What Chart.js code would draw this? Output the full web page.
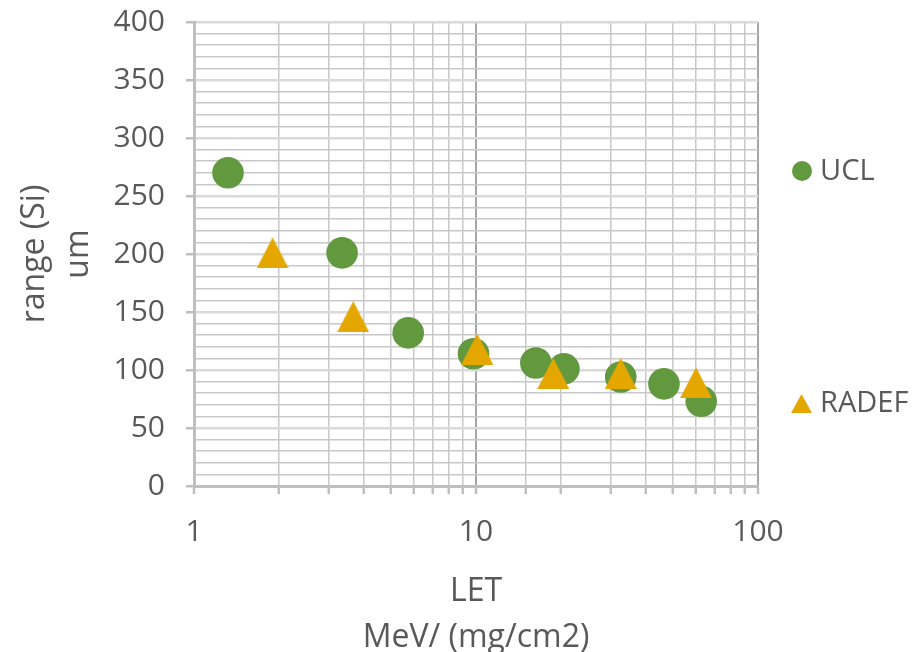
<!DOCTYPE html>
<html><head><meta charset="utf-8">
<script src="https://cdn.jsdelivr.net/npm/chart.js@4/dist/chart.umd.min.js"></script>
<style>html,body{margin:0;padding:0;background:#fff;} canvas{display:block}</style>
</head><body>
<canvas id="c" width="917" height="652"></canvas>
<script>
const seriesNames = ['UCL', 'RADEF'];
const uclLET = [1.32, 3.35, 5.75, 9.8, 16.3, 20.5, 32.6, 46.4, 62.9];
const uclRange = [270, 201, 132, 114, 106, 101, 94, 88, 73];
const radefLET = [1.9, 3.67, 10.1, 18.8, 32.6, 60.3];
const radefRange = [201, 146, 118, 97, 97, 89];
const xTickLabels = ['1', '10', '100'];
const yTickLabels = ['0', '50', '100', '150', '200', '250', '300', '350', '400'];
const xTitle = ['LET', 'MeV/ (mg/cm2)'];
const yTitle = ['range (Si)', 'um'];

const GREEN = '#62993E';
const GOLD = '#E4A700';
const TEXT = '#595959';
const FONT = "'Open Sans', sans-serif";

function triCanvas(w, h, color) {
  const c = document.createElement('canvas');
  c.width = w; c.height = h;
  const g = c.getContext('2d');
  g.fillStyle = color;
  g.beginPath();
  g.moveTo(w / 2, 0); g.lineTo(w, h); g.lineTo(0, h); g.closePath();
  g.fill();
  return c;
}
const triImg = triCanvas(32, 31, GOLD);

const toPts = (xs, ys) => xs.map((x, i) => ({x: x, y: ys[i]}));

const sideLegend = {
  id: 'sideLegend',
  afterDraw(chart) {
    const ctx = chart.ctx;
    const ys = [171, 403];
    ctx.save();
    ctx.font = '29px ' + FONT;
    ctx.fillStyle = TEXT;
    ctx.textBaseline = 'middle';
    ctx.textAlign = 'left';
    chart.data.datasets.forEach((ds, i) => {
      const y = ys[i];
      if (ds.pointStyle === 'circle') {
        ctx.fillStyle = ds.backgroundColor;
        ctx.beginPath(); ctx.arc(802, y, 10, 0, Math.PI * 2); ctx.fill();
      } else {
        ctx.drawImage(ds.pointStyle, 791, y - 9, 21, 19);
      }
      ctx.fillStyle = TEXT;
      ctx.fillText(ds.label, 820, y + 1);
    });
    ctx.restore();
  }
};

const isDecade = v => Math.abs(Math.log10(v) - Math.round(Math.log10(v))) < 1e-9;

new Chart(document.getElementById('c'), {
  type: 'scatter',
  data: {
    datasets: [
      {label: seriesNames[0], data: toPts(uclLET, uclRange), pointStyle: 'circle',
       backgroundColor: GREEN, borderColor: GREEN, borderWidth: 0, pointRadius: 15.8, order: 2},
      {label: seriesNames[1], data: toPts(radefLET, radefRange), pointStyle: triImg,
       backgroundColor: GOLD, borderColor: GOLD, borderWidth: 0, pointRadius: 16, order: 1}
    ]
  },
  plugins: [sideLegend],
  options: {
    responsive: false,
    animation: false,
    devicePixelRatio: 1,
    events: [],
    layout: {padding: {left: 0, right: 159, top: 22, bottom: 0}},
    plugins: {legend: {display: false}, tooltip: {enabled: false}},
    scales: {
      x: {
        type: 'logarithmic', position: 'bottom', min: 1, max: 100,
        afterFit: s => { s.height = 166; s.paddingLeft = 10; s.paddingRight = 10; },
        border: {color: '#bfbfbf', width: 3},
        grid: {
          color: c => (c.tick && isDecade(c.tick.value)) ? '#a6a6a6' : '#c8c8c8',
          lineWidth: c => (c.tick && isDecade(c.tick.value)) ? 2 : 1.5,
          tickColor: '#bfbfbf', tickWidth: 2.5, tickLength: 8
        },
        ticks: {
          autoSkip: false, maxRotation: 0, padding: 20, color: TEXT,
          font: {family: FONT, size: 30},
          callback: v => (isDecade(v) && xTickLabels.includes(String(Math.round(v)))) ? String(Math.round(v)) : ''
        },
        title: {display: true, text: xTitle, color: TEXT, font: {family: FONT, size: 32, lineHeight: 1.45},
                padding: {top: 0, bottom: -9}}
      },
      y: {
        type: 'linear', min: 0, max: 400,
        afterFit: s => { s.width = 194; s.paddingTop = 10; s.paddingBottom = 10; },
        border: {color: '#bfbfbf', width: 3},
        grid: {
          color: c => (c.tick && c.tick.value % 50 === 0) ? '#dadada' : '#c8c8c8',
          lineWidth: c => (c.tick && c.tick.value % 50 === 0) ? 2.5 : 1.5,
          tickColor: c => (c.tick && c.tick.value % 50 === 0) ? '#bfbfbf' : 'rgba(0,0,0,0)',
          tickWidth: 2.5, tickLength: 8
        },
        ticks: {
          stepSize: 10, autoSkip: false, padding: 21, color: TEXT,
          font: {family: FONT, size: 30},
          callback: v => yTickLabels.includes(String(v)) ? String(v) : ''
        },
        title: {display: true, text: yTitle, color: TEXT, font: {family: FONT, size: 32, lineHeight: 1.4},
                padding: {top: 12, bottom: 0}}
      }
    }
  }
});
</script>
</body></html>
